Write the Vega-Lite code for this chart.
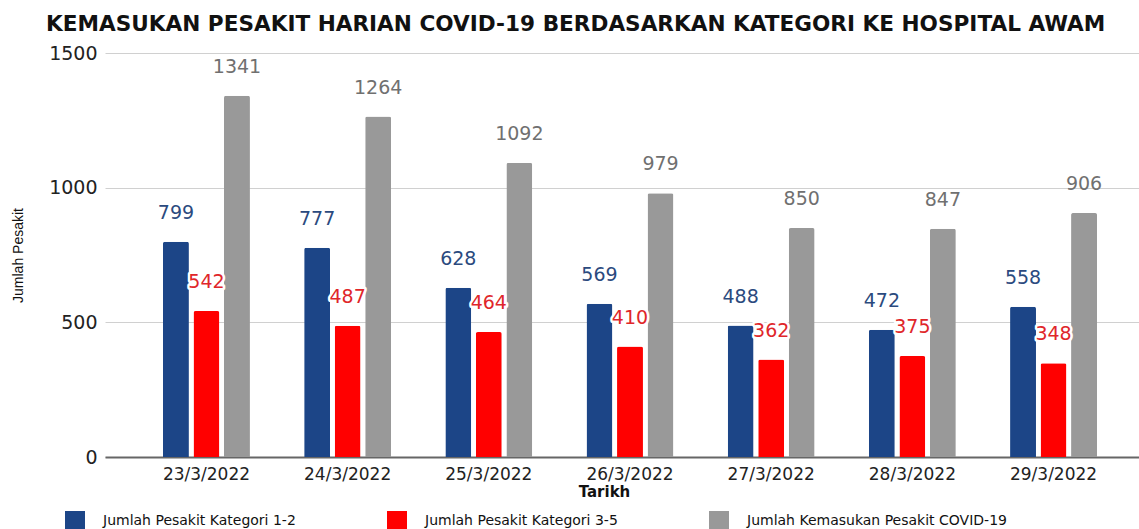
{
  "$schema": "https://vega.github.io/schema/vega-lite/v6.json",
  "width": 1034,
  "height": 404,
  "autosize": {"type": "none"},
  "padding": {"left": 105, "top": 53, "right": 0, "bottom": 72},
  "background": "white",
  "config": {"font": "DejaVu Sans", "view": {"stroke": null}},
  "title": {
    "text": "KEMASUKAN PESAKIT HARIAN COVID-19 BERDASARKAN KATEGORI KE HOSPITAL AWAM",
    "anchor": "start",
    "frame": "group",
    "dx": -59,
    "offset": 8,
    "fontSize": 21.6,
    "fontWeight": "bold",
    "color": "#111111"
  },
  "data": {
    "values": [
      {"tarikh": "23/3/2022", "kategori": "Jumlah Pesakit Kategori 1-2", "jumlah": 799},
      {"tarikh": "23/3/2022", "kategori": "Jumlah Pesakit Kategori 3-5", "jumlah": 542},
      {"tarikh": "23/3/2022", "kategori": "Jumlah Kemasukan Pesakit COVID-19", "jumlah": 1341},
      {"tarikh": "24/3/2022", "kategori": "Jumlah Pesakit Kategori 1-2", "jumlah": 777},
      {"tarikh": "24/3/2022", "kategori": "Jumlah Pesakit Kategori 3-5", "jumlah": 487},
      {"tarikh": "24/3/2022", "kategori": "Jumlah Kemasukan Pesakit COVID-19", "jumlah": 1264},
      {"tarikh": "25/3/2022", "kategori": "Jumlah Pesakit Kategori 1-2", "jumlah": 628},
      {"tarikh": "25/3/2022", "kategori": "Jumlah Pesakit Kategori 3-5", "jumlah": 464},
      {"tarikh": "25/3/2022", "kategori": "Jumlah Kemasukan Pesakit COVID-19", "jumlah": 1092},
      {"tarikh": "26/3/2022", "kategori": "Jumlah Pesakit Kategori 1-2", "jumlah": 569},
      {"tarikh": "26/3/2022", "kategori": "Jumlah Pesakit Kategori 3-5", "jumlah": 410},
      {"tarikh": "26/3/2022", "kategori": "Jumlah Kemasukan Pesakit COVID-19", "jumlah": 979},
      {"tarikh": "27/3/2022", "kategori": "Jumlah Pesakit Kategori 1-2", "jumlah": 488},
      {"tarikh": "27/3/2022", "kategori": "Jumlah Pesakit Kategori 3-5", "jumlah": 362},
      {"tarikh": "27/3/2022", "kategori": "Jumlah Kemasukan Pesakit COVID-19", "jumlah": 850},
      {"tarikh": "28/3/2022", "kategori": "Jumlah Pesakit Kategori 1-2", "jumlah": 472},
      {"tarikh": "28/3/2022", "kategori": "Jumlah Pesakit Kategori 3-5", "jumlah": 375},
      {"tarikh": "28/3/2022", "kategori": "Jumlah Kemasukan Pesakit COVID-19", "jumlah": 847},
      {"tarikh": "29/3/2022", "kategori": "Jumlah Pesakit Kategori 1-2", "jumlah": 558},
      {"tarikh": "29/3/2022", "kategori": "Jumlah Pesakit Kategori 3-5", "jumlah": 348},
      {"tarikh": "29/3/2022", "kategori": "Jumlah Kemasukan Pesakit COVID-19", "jumlah": 906}
    ]
  },
  "encoding": {
    "x": {
      "field": "tarikh",
      "type": "nominal",
      "sort": null,
      "scale": {"paddingInner": 0.384, "paddingOuter": 0.354, "align": 0.58},
      "title": "Tarikh",
      "axis": {
        "labelAngle": 0,
        "ticks": false,
        "domain": true,
        "domainColor": "#666666",
        "domainWidth": 2,
        "labelFontSize": 17,
        "labelColor": "#222222",
        "labelPadding": 9,
        "titleFontSize": 15,
        "titleFontWeight": "bold",
        "titleColor": "#111111",
        "titleX": 499,
        "titleY": 27,
        "titleBaseline": "top"
      }
    },
    "xOffset": {
      "field": "kategori",
      "type": "nominal",
      "scale": {
        "domain": ["Jumlah Pesakit Kategori 1-2", "Jumlah Pesakit Kategori 3-5", "Jumlah Kemasukan Pesakit COVID-19"],
        "paddingInner": 0.15,
        "paddingOuter": 0
      }
    },
    "y": {
      "field": "jumlah",
      "type": "quantitative",
      "scale": {"domain": [0, 1500]},
      "title": "Jumlah Pesakit",
      "axis": {
        "values": [0, 500, 1000, 1500],
        "format": "d",
        "ticks": false,
        "domain": false,
        "grid": true,
        "gridColor": "#d0d0d0",
        "gridWidth": 1,
        "labelFontSize": 19,
        "labelColor": "#222222",
        "labelPadding": 8,
        "titleFont": "Liberation Sans",
        "titleFontSize": 14,
        "titleFontWeight": "normal",
        "titleColor": "#111111",
        "titleX": -87,
        "titleY": 202,
        "titleAlign": "center",
        "titleBaseline": "middle",
        "titleAngle": 270
      }
    }
  },
  "layer": [
    {
      "mark": {"type": "bar", "cornerRadiusTopLeft": 2, "cornerRadiusTopRight": 2},
      "encoding": {
        "color": {
          "field": "kategori",
          "type": "nominal",
          "scale": {
            "domain": ["Jumlah Pesakit Kategori 1-2", "Jumlah Pesakit Kategori 3-5", "Jumlah Kemasukan Pesakit COVID-19"],
            "range": ["#1c4587", "#ff0000", "#999999"]
          },
          "legend": {
            "title": null,
            "orient": "none",
            "legendX": -40,
            "legendY": 458,
            "direction": "horizontal",
            "columns": 3,
            "symbolType": "square",
            "symbolSize": 400,
            "symbolStrokeWidth": 0,
            "symbolOpacity": 1,
            "labelFontSize": 14,
            "labelColor": "#111111",
            "labelOffset": 18,
            "columnPadding": 91,
            "labelLimit": 400
          }
        }
      }
    },
    {
      "transform": [{"filter": "datum.kategori === 'Jumlah Pesakit Kategori 1-2'"}],
      "mark": {"type": "text", "baseline": "alphabetic", "dy": -23, "fontSize": 19, "color": "#2b4a7e"},
      "encoding": {"text": {"field": "jumlah", "type": "quantitative"}}
    },
    {
      "transform": [{"filter": "datum.kategori === 'Jumlah Kemasukan Pesakit COVID-19'"}],
      "mark": {"type": "text", "baseline": "alphabetic", "dy": -23, "fontSize": 19, "color": "#707070"},
      "encoding": {"text": {"field": "jumlah", "type": "quantitative"}}
    },
    {
      "transform": [{"filter": "datum.kategori === 'Jumlah Pesakit Kategori 3-5'"}],
      "mark": {"type": "text", "baseline": "alphabetic", "dy": -23, "fontSize": 19, "color": "white", "stroke": "white", "strokeWidth": 5, "strokeJoin": "round"},
      "encoding": {"text": {"field": "jumlah", "type": "quantitative"}}
    },
    {
      "transform": [{"filter": "datum.kategori === 'Jumlah Pesakit Kategori 3-5'"}],
      "mark": {"type": "text", "baseline": "alphabetic", "dy": -23, "fontSize": 19, "color": "#e0262a"},
      "encoding": {"text": {"field": "jumlah", "type": "quantitative"}}
    }
  ]
}
